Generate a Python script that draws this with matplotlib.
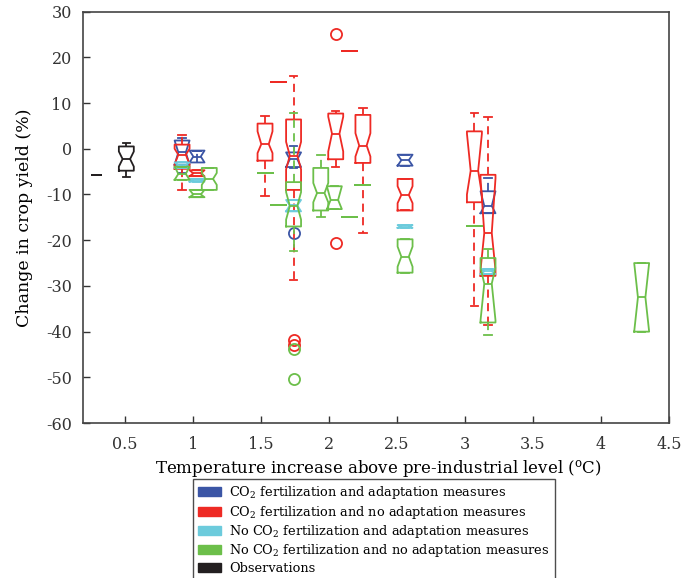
import matplotlib
matplotlib.use("Agg")
import matplotlib.pyplot as plt
from matplotlib.patches import Patch

plt.rcParams['font.family'] = ['DejaVu Serif']
plt.rcParams['mathtext.fontset'] = 'dejavuserif'
plt.rcParams['axes.unicode_minus'] = False

# each box: (temperature, whislo, q1, med, q3, whishi, cilo, cihi, fliers)
blue = [
    (0.92, -5.3, -3.5, -0.8, 1.8, 2.4, -3.5, 1.8, []),
    (1.03, -0.4, -3.0, -1.7, -0.4, -0.4, -3.0, -0.4, []),
    (1.74, -4.3, -4.0, -2.3, -0.8, 0.6, -4.0, -0.8, [-18.5]),
    (2.56, -3.7, -3.7, -2.5, -1.3, -1.3, -3.7, -1.3, []),
    (3.17, -14.1, -14.1, -12.5, -9.3, -6.3, -14.1, -9.3, []),
]
red = [
    (0.92, -9.1, -4.4, -1.3, 0.9, 3.1, -3.4, 0.0, []),
    (1.03, -6.0, -6.0, -5.4, -4.7, -4.7, -6.0, -4.7, []),
    (1.53, -10.4, -2.6, 1.0, 5.5, 7.2, -0.95, 3.8, []),
    (1.63, 14.7, 14.7, 14.7, 14.7, 14.7, 14.7, 14.7, []),
    (1.74, -28.6, -9.0, -1.5, 6.4, 15.8, -4.5, 1.5, [-41.8, -42.9]),
    (2.05, -3.9, -2.3, 3.3, 7.7, 8.2, -0.6, 7.0, [25.0, -20.6]),
    (2.15, 21.3, 21.3, 21.3, 21.3, 21.3, 21.3, 21.3, []),
    (2.25, -18.5, -3.1, 0.7, 7.4, 8.9, -1.7, 3.4, []),
    (2.56, -13.5, -13.5, -10.1, -6.6, -6.6, -11.9, -8.2, []),
    (3.07, -34.4, -11.7, -4.8, 3.8, 7.8, -10.0, 3.3, []),
    (3.17, -38.5, -27.8, -18.4, -5.7, 6.9, -26.5, -6.5, []),
]
cyan = [
    (0.92, -4.2, -4.2, -3.6, -3.0, -3.0, -4.2, -3.0, []),
    (1.03, -7.2, -7.2, -6.9, -6.6, -6.6, -7.2, -6.6, []),
    (1.74, -13.7, -13.7, -12.4, -11.2, -11.2, -13.7, -11.2, []),
    (2.56, -17.3, -17.3, -17.0, -16.7, -16.7, -17.3, -16.7, []),
    (3.17, -27.4, -27.4, -26.8, -26.3, -26.3, -27.4, -26.3, []),
]
green = [
    (0.92, -6.8, -6.8, -5.5, -3.9, -3.9, -6.8, -3.9, []),
    (1.03, -10.6, -10.6, -10.0, -9.0, -9.0, -10.6, -9.0, []),
    (1.12, -9.0, -9.0, -6.6, -4.2, -4.2, -7.9, -5.3, []),
    (1.53, -5.4, -5.4, -5.4, -5.4, -5.4, -5.4, -5.4, []),
    (1.63, -12.3, -12.3, -12.3, -12.3, -12.3, -12.3, -12.3, []),
    (1.74, -22.3, -17.0, -12.5, -7.3, 7.8, -15.5, -9.5, [-43.8, -50.4]),
    (1.94, -15.0, -13.5, -9.7, -4.2, -1.3, -11.7, -7.5, []),
    (2.04, -13.2, -13.2, -11.2, -8.2, -8.2, -13.2, -8.2, []),
    (2.15, -15.0, -15.0, -15.0, -15.0, -15.0, -15.0, -15.0, []),
    (2.25, -8.0, -8.0, -8.0, -8.0, -8.0, -8.0, -8.0, []),
    (2.56, -27.1, -27.1, -23.6, -19.8, -19.8, -25.8, -21.4, []),
    (3.07, -17.0, -17.0, -17.0, -17.0, -17.0, -17.0, -17.0, []),
    (3.17, -40.7, -38.0, -29.5, -23.9, -21.9, -37.5, -26.0, []),
    (4.30, -40.0, -40.0, -32.5, -25.0, -25.0, -40.0, -25.0, []),
]
black = [
    (0.29, -5.7, -5.7, -5.7, -5.7, -5.7, -5.7, -5.7, []),
    (0.51, -6.1, -4.8, -2.25, 0.5, 1.25, -3.9, -0.6, []),
]

labels = ['CO$_2$ fertilization and adaptation measures',
          'CO$_2$ fertilization and no adaptation measures',
          'No CO$_2$ fertilization and adaptation measures',
          'No CO$_2$ fertilization and no adaptation measures',
          'Observations']
colors = ['#3b55a5', '#ee2a24', '#6ccbdc', '#6cbf4a', '#231f20']

fig = plt.figure(figsize=(6.96, 5.78), dpi=100)
ax = fig.add_axes([0.119, 0.268, 0.842, 0.712])

keys = ['whislo', 'q1', 'med', 'q3', 'whishi', 'cilo', 'cihi', 'fliers']
for series, col in zip([blue, red, cyan, green, black], colors):
    stats = []
    pos = []
    widths = []
    for row in series:
        pos.append(row[0])
        stats.append(dict(zip(keys, row[1:])))
        widths.append(0.07 if row[0] < 0.4 else 0.11)
    lw = 1.3
    ax.bxp(stats, positions=pos, widths=widths, shownotches=True,
           manage_ticks=False,
           boxprops=dict(color=col, linewidth=lw),
           whiskerprops=dict(color=col, linewidth=lw, linestyle=(0, (4.5, 3))),
           capprops=dict(color=col, linewidth=lw),
           medianprops=dict(color=col, linewidth=lw),
           flierprops=dict(marker='o', markerfacecolor='none',
                           markeredgecolor=col, markersize=8, markeredgewidth=1.3))

ax.set_xlim(0.19, 4.5)
ax.set_ylim(-60, 30)
ax.set_xticks([0.5, 1, 1.5, 2, 2.5, 3, 3.5, 4, 4.5])
ax.set_xticklabels(['0.5', '1', '1.5', '2', '2.5', '3', '3.5', '4', '4.5'])
ax.set_yticks(range(-60, 31, 10))
ax.tick_params(direction='in', length=5, labelsize=11.5, width=1, colors='#333333')
ax.tick_params(axis='x', pad=9)
ax.tick_params(axis='y', pad=8)
for s in ax.spines.values():
    s.set_color('#444444')
    s.set_linewidth(1.2)

ax.set_ylabel('Change in crop yield (%)', fontsize=12.5)
ax.yaxis.set_label_coords(-0.085, 0.5)
ax.set_xlabel('Temperature increase above pre-industrial level ($^{\\rm o}$C)', fontsize=12)
ax.xaxis.set_label_coords(0.505, -0.085)

handles = [Patch(facecolor=c, edgecolor=c) for c in colors]
leg = fig.legend(handles, labels, loc='upper left', bbox_to_anchor=(0.277, 0.171),
                 fontsize=9.3, frameon=True, fancybox=False, edgecolor='#222222',
                 handlelength=1.8, handleheight=0.7, labelspacing=0.18,
                 borderpad=0.4, handletextpad=0.6, borderaxespad=0)
leg.get_frame().set_linewidth(1.0)

fig.savefig('out.png', dpi=100)
